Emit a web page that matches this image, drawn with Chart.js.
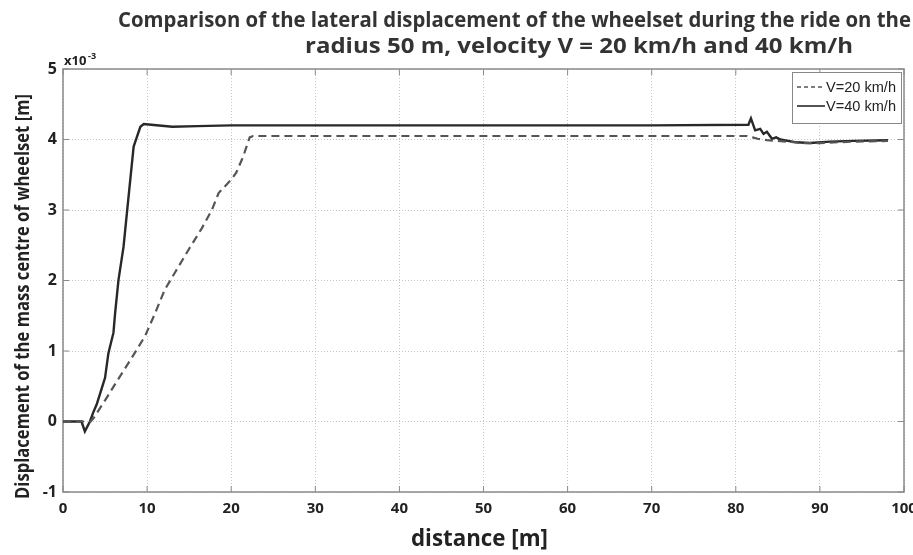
<!DOCTYPE html>
<html>
<head>
<meta charset="utf-8">
<script src="https://cdn.jsdelivr.net/npm/chart.js@4/dist/chart.umd.min.js"></script>
<style>
  html, body { margin: 0; padding: 0; background: #fff; }
</style>
</head>
<body>
<canvas id="chart" width="913" height="555"></canvas>
<script>
// Dados (deslocamento em unidades de 10^-3 m)
const distance20 = [0, 3.3, 3.7, 5, 6.3, 8, 9.75, 11, 12.1, 13.3, 15, 16.5, 17.7, 18.5, 20.0, 20.6, 21.4, 22.2, 22.6, 30, 50, 70, 81.3, 82.0, 82.6, 83.7, 85, 88, 90, 94, 98.1];
const disp20 = [0, 0, 0.06, 0.3, 0.55, 0.87, 1.21, 1.55, 1.87, 2.11, 2.45, 2.74, 3.0, 3.24, 3.43, 3.53, 3.75, 4.03, 4.05, 4.05, 4.05, 4.05, 4.05, 4.03, 4.01, 3.99, 3.98, 3.95, 3.95, 3.97, 3.98];

const distance40 = [0, 2.2, 2.6, 3.2, 3.6, 4.0, 4.55, 5.0, 5.4, 6.0, 6.2, 6.6, 7.2, 7.6, 8.0, 8.4, 8.8, 9.2, 9.6, 10.5, 13, 16, 20, 30, 50, 70, 81.5, 81.8, 82.3, 82.9, 83.3, 83.7, 84.3, 84.8, 85.3, 87.2, 88.8, 91.2, 94, 98.1];
const disp40 = [0, 0, -0.14, 0, 0.13, 0.24, 0.45, 0.62, 0.97, 1.26, 1.54, 2.01, 2.48, 2.96, 3.43, 3.9, 4.04, 4.18, 4.22, 4.21, 4.18, 4.19, 4.2, 4.2, 4.2, 4.2, 4.21, 4.3, 4.13, 4.15, 4.08, 4.11, 4.01, 4.03, 4.0, 3.96, 3.95, 3.97, 3.98, 3.99];

const xTicks = [0, 10, 20, 30, 40, 50, 60, 70, 80, 90, 100];
const yTicks = [-1, 0, 1, 2, 3, 4, 5];

const titleLines = [
  'Comparison of the lateral displacement of the wheelset during the ride on the',
  'radius 50 m, velocity V = 20 km/h and 40 km/h',
];
const seriesLabels = ['V=20 km/h', 'V=40 km/h'];

// Junta x e y em pontos para o Chart.js
function toPoints(xs, ys) {
  return xs.map((x, i) => ({ x: x, y: ys[i] }));
}

// Escreve texto comprimido para caber numa largura
function fitText(ctx, text, x, y, width, font) {
  ctx.font = font;
  const w = ctx.measureText(text).width;
  ctx.save();
  ctx.translate(x, y);
  ctx.scale(width / w, 1);
  ctx.fillText(text, 0, 0);
  ctx.restore();
}

// Moldura, marcas internas, títulos, multiplicador e legenda
const decorPlugin = {
  id: 'decor',
  beforeDatasetsDraw(chart) {
    const { ctx, chartArea: a, scales } = chart;
    ctx.save();
    ctx.strokeStyle = '#8a8a8a';
    ctx.lineWidth = 1.5;
    ctx.strokeRect(a.left, a.top, a.right - a.left, a.bottom - a.top);
    ctx.lineWidth = 1;
    ctx.beginPath();
    for (const t of xTicks) {
      const px = scales.x.getPixelForValue(t);
      ctx.moveTo(px, a.bottom); ctx.lineTo(px, a.bottom - 6);
      ctx.moveTo(px, a.top); ctx.lineTo(px, a.top + 6);
    }
    for (const t of yTicks) {
      const py = scales.y.getPixelForValue(t);
      ctx.moveTo(a.left, py); ctx.lineTo(a.left + 6, py);
      ctx.moveTo(a.right, py); ctx.lineTo(a.right - 6, py);
    }
    ctx.stroke();
    ctx.restore();
  },
  afterDraw(chart) {
    const { ctx, chartArea: a } = chart;
    ctx.save();
    ctx.fillStyle = '#333';
    ctx.textBaseline = 'alphabetic';
    ctx.textAlign = 'left';
    fitText(ctx, titleLines[0], 118, 27, 793, 'bold 21px "Open Sans"');
    fitText(ctx, titleLines[1], 305, 53, 548, 'bold 21px "Open Sans"');

    // eixo x
    ctx.fillStyle = '#222';
    fitText(ctx, 'distance [m]', 411, 546, 137, 'bold 23px "Open Sans"');

    // eixo y (rotacionado)
    ctx.save();
    ctx.translate(29, 499);
    ctx.rotate(-Math.PI / 2);
    fitText(ctx, 'Displacement of the mass centre of wheelset [m]', 0, 0, 405, 'bold 20px "Open Sans"');
    ctx.restore();

    // multiplicador x10^-3
    ctx.font = 'bold 13px "Open Sans"';
    ctx.fillText('x10', a.left + 1, a.top - 4);
    ctx.font = 'bold 9px "Open Sans"';
    ctx.fillText('-3', a.left + 25, a.top - 10);

    // legenda
    const lx = 792, ly = 72, lw = 109, lh = 51;
    ctx.fillStyle = '#fff';
    ctx.fillRect(lx, ly, lw, lh);
    ctx.strokeStyle = '#888';
    ctx.lineWidth = 1;
    ctx.strokeRect(lx + 0.5, ly + 0.5, lw, lh);
    const rows = [ly + 15, ly + 34];
    chart.data.datasets.forEach((ds, i) => {
      ctx.strokeStyle = ds.borderColor;
      ctx.lineWidth = 1.6;
      ctx.setLineDash(i === 0 ? [4, 3] : []);
      ctx.beginPath();
      ctx.moveTo(lx + 5, rows[i]);
      ctx.lineTo(lx + 33, rows[i]);
      ctx.stroke();
      ctx.setLineDash([]);
      ctx.fillStyle = '#222';
      ctx.textBaseline = 'middle';
      fitText(ctx, ds.label, lx + 34, rows[i] + 1, 70, '14px "Liberation Sans"');
    });
    ctx.restore();
  },
};

const tickFont = { family: 'Open Sans', weight: 'bold', size: 15 };

new Chart(document.getElementById('chart'), {
  type: 'line',
  data: {
    datasets: [
      {
        label: seriesLabels[0],
        data: toPoints(distance20, disp20),
        borderColor: '#555555',
        borderWidth: 2.2,
        borderDash: [8, 5],
        pointRadius: 0,
        tension: 0,
      },
      {
        label: seriesLabels[1],
        data: toPoints(distance40, disp40),
        borderColor: '#282828',
        borderWidth: 2.4,
        pointRadius: 0,
        tension: 0,
      },
    ],
  },
  options: {
    responsive: false,
    animation: false,
    layout: { padding: { top: 69, right: 9, left: 0, bottom: 0 } },
    plugins: {
      legend: { display: false },
      title: { display: false },
      tooltip: { enabled: false },
    },
    scales: {
      x: {
        type: 'linear',
        min: 0,
        max: 100,
        afterFit: (scale) => {
          scale.height = 63;
          scale.paddingLeft = 0;
          scale.paddingRight = 0;
        },
        afterBuildTicks: (scale) => { scale.ticks = xTicks.map((v) => ({ value: v })); },
        ticks: { color: '#222', font: tickFont, padding: 8, maxRotation: 0 },
        grid: { color: '#c4c4c4', lineWidth: 1, drawTicks: false },
        border: { display: false, dash: [1, 2] },
      },
      y: {
        type: 'linear',
        min: -1,
        max: 5,
        afterFit: (scale) => {
          scale.width = 63;
          scale.paddingTop = 0;
          scale.paddingBottom = 0;
        },
        afterBuildTicks: (scale) => { scale.ticks = yTicks.map((v) => ({ value: v })); },
        ticks: { color: '#222', font: { family: 'Open Sans', weight: 'bold', size: 16 }, padding: 6 },
        grid: { color: '#c4c4c4', lineWidth: 1, drawTicks: false },
        border: { display: false, dash: [1, 2] },
      },
    },
  },
  plugins: [decorPlugin],
});
</script>
</body>
</html>
